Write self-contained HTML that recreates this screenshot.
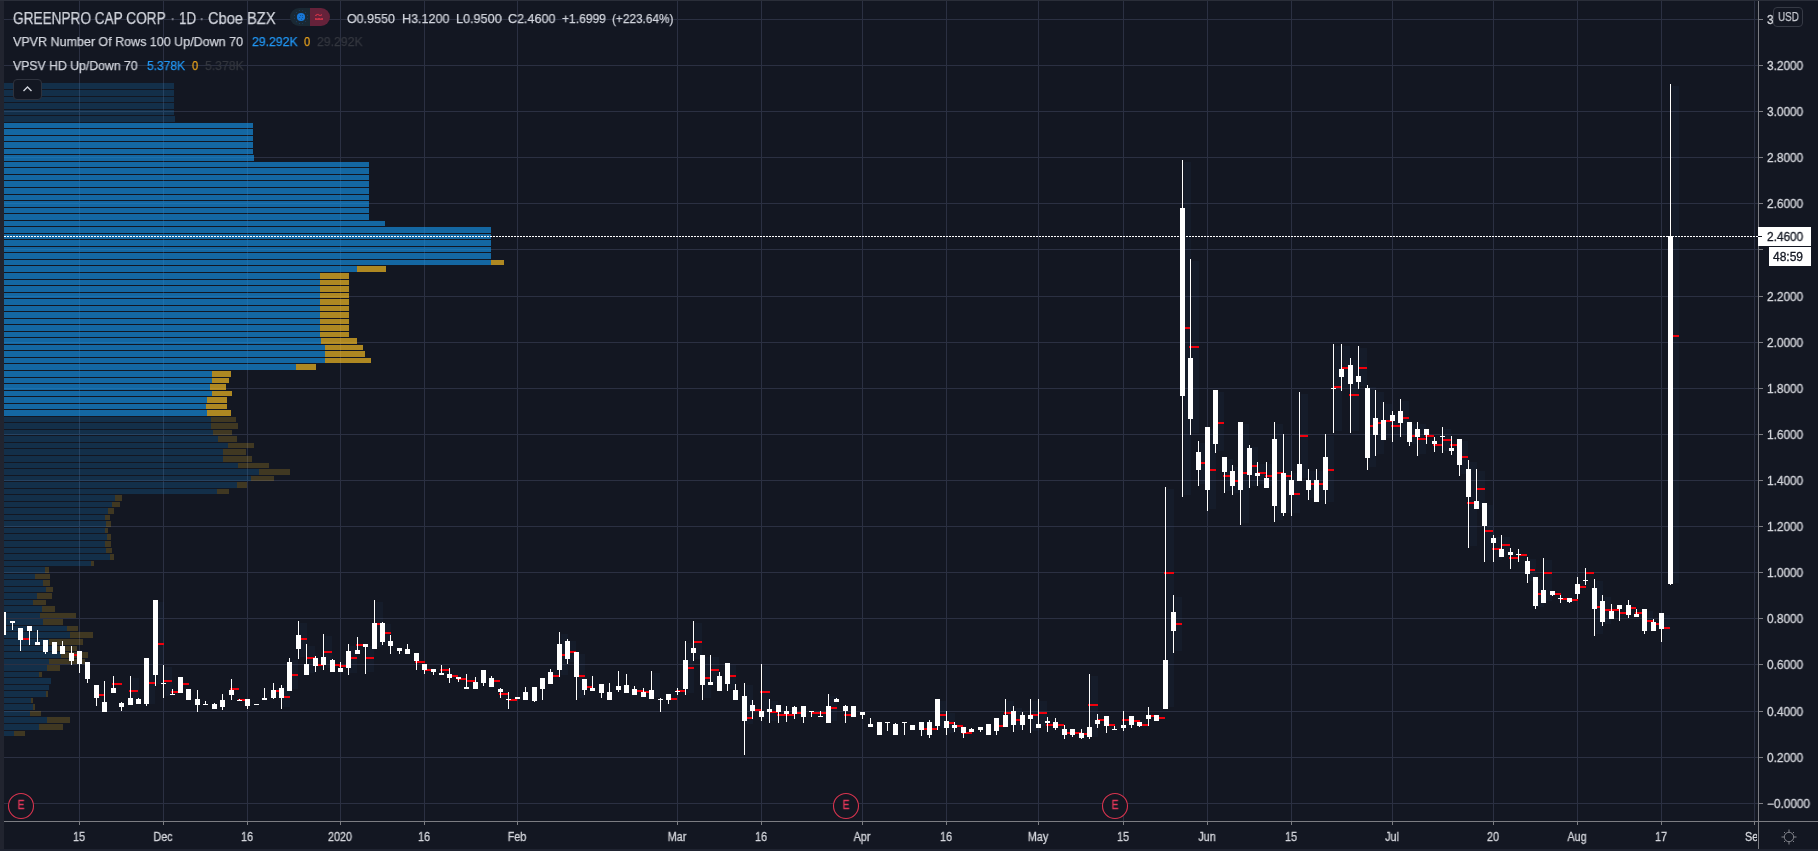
<!DOCTYPE html><html><head><meta charset="utf-8"><title>GRNQ chart</title><style>
html,body{margin:0;padding:0;background:#131722;}
body{width:1818px;height:851px;overflow:hidden;position:relative;font-family:"Liberation Sans",sans-serif;color:#d1d4dc;}
svg{position:absolute;left:0;top:0;}
.t{position:absolute;-webkit-text-stroke:0.25px;white-space:nowrap;line-height:1;transform-origin:0 50%;will-change:transform;}
.pl{position:absolute;left:1766.5px;font-size:12px;line-height:14px;height:14px;color:#d4d6dc;-webkit-text-stroke:0.3px;white-space:nowrap;transform-origin:0 50%;transform:scaleX(0.985);will-change:transform;}
.tl{position:absolute;top:830px;font-size:12px;line-height:14px;color:#d4d6dc;-webkit-text-stroke:0.3px;white-space:nowrap;transform:translateX(-50%) scaleX(0.9);will-change:transform;}
.e{position:absolute;top:798px;width:26px;text-align:center;font-size:12px;line-height:14px;color:#e0385a;transform:scaleX(0.86);will-change:transform;-webkit-text-stroke:0.3px;}

</style></head><body>
<svg width="1818" height="851" viewBox="0 0 1818 851" shape-rendering="crispEdges">
<g fill="#2b3042">
<rect x="4" y="19" width="1754" height="1"/>
<rect x="4" y="65" width="1754" height="1"/>
<rect x="4" y="111" width="1754" height="1"/>
<rect x="4" y="157" width="1754" height="1"/>
<rect x="4" y="203" width="1754" height="1"/>
<rect x="4" y="249" width="1754" height="1"/>
<rect x="4" y="296" width="1754" height="1"/>
<rect x="4" y="342" width="1754" height="1"/>
<rect x="4" y="388" width="1754" height="1"/>
<rect x="4" y="434" width="1754" height="1"/>
<rect x="4" y="480" width="1754" height="1"/>
<rect x="4" y="526" width="1754" height="1"/>
<rect x="4" y="572" width="1754" height="1"/>
<rect x="4" y="618" width="1754" height="1"/>
<rect x="4" y="664" width="1754" height="1"/>
<rect x="4" y="711" width="1754" height="1"/>
<rect x="4" y="757" width="1754" height="1"/>
<rect x="4" y="803" width="1754" height="1"/>
<rect x="79" y="1" width="1" height="821"/>
<rect x="163" y="1" width="1" height="821"/>
<rect x="247" y="1" width="1" height="821"/>
<rect x="340" y="1" width="1" height="821"/>
<rect x="424" y="1" width="1" height="821"/>
<rect x="517" y="1" width="1" height="821"/>
<rect x="677" y="1" width="1" height="821"/>
<rect x="761" y="1" width="1" height="821"/>
<rect x="862" y="1" width="1" height="821"/>
<rect x="946" y="1" width="1" height="821"/>
<rect x="1038" y="1" width="1" height="821"/>
<rect x="1123" y="1" width="1" height="821"/>
<rect x="1207" y="1" width="1" height="821"/>
<rect x="1291" y="1" width="1" height="821"/>
<rect x="1392" y="1" width="1" height="821"/>
<rect x="1493" y="1" width="1" height="821"/>
<rect x="1577" y="1" width="1" height="821"/>
<rect x="1661" y="1" width="1" height="821"/>
<rect x="1754" y="1" width="1" height="821"/>
</g>
<g fill="rgba(60,100,160,0.065)">
<rect x="132" y="678" width="7" height="25"/>
<rect x="148" y="660" width="7" height="44"/>
<rect x="157" y="602" width="7" height="82"/>
<rect x="165" y="667" width="7" height="29"/>
<rect x="283" y="687" width="7" height="20"/>
<rect x="291" y="660" width="7" height="29"/>
<rect x="300" y="623" width="7" height="34"/>
<rect x="308" y="646" width="7" height="27"/>
<rect x="325" y="636" width="7" height="32"/>
<rect x="350" y="646" width="7" height="27"/>
<rect x="367" y="646" width="7" height="26"/>
<rect x="376" y="602" width="7" height="45"/>
<rect x="384" y="624" width="7" height="19"/>
<rect x="561" y="634" width="7" height="41"/>
<rect x="569" y="641" width="7" height="21"/>
<rect x="578" y="654" width="7" height="44"/>
<rect x="653" y="673" width="7" height="24"/>
<rect x="687" y="643" width="7" height="50"/>
<rect x="695" y="623" width="7" height="36"/>
<rect x="704" y="657" width="7" height="41"/>
<rect x="712" y="657" width="7" height="26"/>
<rect x="729" y="665" width="7" height="24"/>
<rect x="746" y="685" width="7" height="39"/>
<rect x="763" y="666" width="7" height="53"/>
<rect x="771" y="701" width="7" height="20"/>
<rect x="830" y="696" width="7" height="25"/>
<rect x="939" y="701" width="7" height="27"/>
<rect x="948" y="713" width="7" height="20"/>
<rect x="1007" y="701" width="7" height="24"/>
<rect x="1015" y="708" width="7" height="22"/>
<rect x="1032" y="701" width="7" height="30"/>
<rect x="1040" y="701" width="7" height="25"/>
<rect x="1091" y="676" width="7" height="61"/>
<rect x="1167" y="489" width="7" height="218"/>
<rect x="1175" y="597" width="7" height="54"/>
<rect x="1184" y="162" width="7" height="333"/>
<rect x="1192" y="261" width="7" height="172"/>
<rect x="1200" y="443" width="7" height="41"/>
<rect x="1209" y="429" width="7" height="80"/>
<rect x="1217" y="392" width="7" height="59"/>
<rect x="1226" y="459" width="7" height="32"/>
<rect x="1234" y="467" width="7" height="26"/>
<rect x="1242" y="424" width="7" height="99"/>
<rect x="1251" y="447" width="7" height="39"/>
<rect x="1259" y="464" width="7" height="20"/>
<rect x="1268" y="464" width="7" height="22"/>
<rect x="1276" y="424" width="7" height="96"/>
<rect x="1285" y="436" width="7" height="77"/>
<rect x="1293" y="473" width="7" height="40"/>
<rect x="1301" y="394" width="7" height="84"/>
<rect x="1310" y="471" width="7" height="27"/>
<rect x="1318" y="471" width="7" height="29"/>
<rect x="1327" y="436" width="7" height="66"/>
<rect x="1335" y="346" width="7" height="85"/>
<rect x="1343" y="346" width="7" height="43"/>
<rect x="1352" y="360" width="7" height="71"/>
<rect x="1360" y="348" width="7" height="38"/>
<rect x="1369" y="387" width="7" height="80"/>
<rect x="1377" y="392" width="7" height="62"/>
<rect x="1385" y="404" width="7" height="34"/>
<rect x="1394" y="413" width="7" height="27"/>
<rect x="1402" y="401" width="7" height="34"/>
<rect x="1411" y="424" width="7" height="20"/>
<rect x="1419" y="424" width="7" height="30"/>
<rect x="1444" y="429" width="7" height="22"/>
<rect x="1461" y="441" width="7" height="33"/>
<rect x="1470" y="462" width="7" height="84"/>
<rect x="1478" y="471" width="7" height="36"/>
<rect x="1486" y="505" width="7" height="55"/>
<rect x="1495" y="537" width="7" height="23"/>
<rect x="1503" y="537" width="7" height="18"/>
<rect x="1529" y="559" width="7" height="22"/>
<rect x="1537" y="579" width="7" height="28"/>
<rect x="1545" y="560" width="7" height="41"/>
<rect x="1596" y="581" width="7" height="53"/>
<rect x="1604" y="597" width="7" height="27"/>
<rect x="1646" y="611" width="7" height="20"/>
<rect x="1663" y="615" width="7" height="25"/>
<rect x="1672" y="86" width="7" height="497"/>
</g>
<g fill="rgba(21,146,230,0.655)"><rect x="4" y="123" width="249" height="5"/><rect x="4" y="129" width="249" height="6"/><rect x="4" y="136" width="249" height="5"/><rect x="4" y="142" width="249" height="6"/><rect x="4" y="149" width="249" height="5"/><rect x="4" y="155" width="250" height="6"/><rect x="4" y="162" width="365" height="5"/><rect x="4" y="168" width="365" height="6"/><rect x="4" y="175" width="365" height="5"/><rect x="4" y="181" width="365" height="6"/><rect x="4" y="188" width="365" height="6"/><rect x="4" y="195" width="365" height="5"/><rect x="4" y="201" width="365" height="6"/><rect x="4" y="208" width="365" height="5"/><rect x="4" y="214" width="365" height="6"/><rect x="4" y="221" width="381" height="5"/><rect x="4" y="227" width="487" height="6"/><rect x="4" y="234" width="487" height="5"/><rect x="4" y="240" width="487" height="6"/><rect x="4" y="247" width="487" height="5"/><rect x="4" y="253" width="487" height="6"/><rect x="4" y="260" width="487" height="5"/><rect x="4" y="266" width="353" height="6"/><rect x="4" y="273" width="316" height="6"/><rect x="4" y="280" width="316" height="5"/><rect x="4" y="286" width="316" height="6"/><rect x="4" y="293" width="316" height="5"/><rect x="4" y="299" width="316" height="6"/><rect x="4" y="306" width="316" height="5"/><rect x="4" y="312" width="316" height="6"/><rect x="4" y="319" width="316" height="5"/><rect x="4" y="325" width="316" height="6"/><rect x="4" y="332" width="316" height="5"/><rect x="4" y="338" width="317" height="6"/><rect x="4" y="345" width="321" height="5"/><rect x="4" y="351" width="321" height="6"/><rect x="4" y="358" width="321" height="5"/><rect x="4" y="364" width="292" height="6"/><rect x="4" y="371" width="208" height="6"/><rect x="4" y="378" width="208" height="5"/><rect x="4" y="384" width="206" height="6"/><rect x="4" y="391" width="208" height="5"/><rect x="4" y="397" width="203" height="6"/><rect x="4" y="404" width="202" height="5"/><rect x="4" y="410" width="203" height="6"/></g>
<g fill="rgba(251,193,35,0.67)"><rect x="491" y="260" width="13" height="5"/><rect x="357" y="266" width="29" height="6"/><rect x="320" y="273" width="29" height="6"/><rect x="320" y="280" width="29" height="5"/><rect x="320" y="286" width="29" height="6"/><rect x="320" y="293" width="29" height="5"/><rect x="320" y="299" width="29" height="6"/><rect x="320" y="306" width="29" height="5"/><rect x="320" y="312" width="29" height="6"/><rect x="320" y="319" width="29" height="5"/><rect x="320" y="325" width="29" height="6"/><rect x="320" y="332" width="29" height="5"/><rect x="321" y="338" width="36" height="6"/><rect x="325" y="345" width="38" height="5"/><rect x="325" y="351" width="40" height="6"/><rect x="325" y="358" width="46" height="5"/><rect x="296" y="364" width="20" height="6"/><rect x="212" y="371" width="19" height="6"/><rect x="212" y="378" width="17" height="5"/><rect x="210" y="384" width="16" height="6"/><rect x="212" y="391" width="20" height="5"/><rect x="207" y="397" width="20" height="6"/><rect x="206" y="404" width="21" height="5"/><rect x="207" y="410" width="24" height="6"/></g>
<g fill="rgba(21,146,230,0.2)"><rect x="4" y="83" width="170" height="6"/><rect x="4" y="90" width="170" height="6"/><rect x="4" y="97" width="170" height="5"/><rect x="4" y="103" width="170" height="6"/><rect x="4" y="110" width="170" height="5"/><rect x="4" y="116" width="171" height="6"/><rect x="4" y="417" width="207" height="5"/><rect x="4" y="423" width="207" height="6"/><rect x="4" y="430" width="209" height="5"/><rect x="4" y="436" width="214" height="6"/><rect x="4" y="443" width="224" height="5"/><rect x="4" y="449" width="219" height="6"/><rect x="4" y="456" width="219" height="6"/><rect x="4" y="463" width="234" height="5"/><rect x="4" y="469" width="255" height="6"/><rect x="4" y="476" width="247" height="5"/><rect x="4" y="482" width="233" height="6"/><rect x="4" y="489" width="213" height="5"/><rect x="4" y="495" width="111" height="6"/><rect x="4" y="502" width="108" height="5"/><rect x="4" y="508" width="104" height="6"/><rect x="4" y="515" width="101" height="5"/><rect x="4" y="521" width="102" height="6"/><rect x="4" y="528" width="101" height="5"/><rect x="4" y="534" width="103" height="6"/><rect x="4" y="541" width="101" height="6"/><rect x="4" y="548" width="102" height="5"/><rect x="4" y="554" width="106" height="6"/><rect x="4" y="561" width="87" height="5"/><rect x="4" y="567" width="41" height="6"/><rect x="4" y="574" width="31" height="5"/><rect x="4" y="580" width="39" height="6"/><rect x="4" y="587" width="42" height="5"/><rect x="4" y="593" width="33" height="6"/><rect x="4" y="600" width="29" height="5"/><rect x="4" y="606" width="38" height="6"/><rect x="4" y="613" width="36" height="5"/><rect x="4" y="619" width="39" height="6"/><rect x="4" y="626" width="63" height="5"/><rect x="4" y="632" width="66" height="6"/><rect x="4" y="639" width="45" height="6"/><rect x="4" y="646" width="49" height="5"/><rect x="4" y="652" width="57" height="6"/><rect x="4" y="659" width="45" height="5"/><rect x="4" y="665" width="43" height="6"/><rect x="4" y="672" width="35" height="5"/><rect x="4" y="678" width="47" height="6"/><rect x="4" y="685" width="45" height="5"/><rect x="4" y="691" width="42" height="6"/><rect x="4" y="698" width="27" height="5"/><rect x="4" y="704" width="29" height="6"/><rect x="4" y="711" width="26" height="5"/><rect x="4" y="717" width="43" height="6"/><rect x="4" y="724" width="35" height="6"/><rect x="4" y="731" width="10" height="5"/></g>
<g fill="rgba(251,193,35,0.195)"><rect x="211" y="417" width="25" height="5"/><rect x="211" y="423" width="27" height="6"/><rect x="213" y="430" width="19" height="5"/><rect x="218" y="436" width="19" height="6"/><rect x="228" y="443" width="26" height="5"/><rect x="223" y="449" width="23" height="6"/><rect x="223" y="456" width="29" height="6"/><rect x="238" y="463" width="31" height="5"/><rect x="259" y="469" width="31" height="6"/><rect x="251" y="476" width="23" height="5"/><rect x="237" y="482" width="10" height="6"/><rect x="217" y="489" width="12" height="5"/><rect x="115" y="495" width="7" height="6"/><rect x="112" y="502" width="8" height="5"/><rect x="108" y="508" width="6" height="6"/><rect x="105" y="515" width="5" height="5"/><rect x="106" y="521" width="5" height="6"/><rect x="105" y="528" width="3" height="5"/><rect x="107" y="534" width="4" height="6"/><rect x="105" y="541" width="6" height="6"/><rect x="106" y="548" width="6" height="5"/><rect x="110" y="554" width="4" height="6"/><rect x="91" y="561" width="3" height="5"/><rect x="45" y="567" width="4" height="6"/><rect x="35" y="574" width="15" height="5"/><rect x="43" y="580" width="7" height="6"/><rect x="46" y="587" width="7" height="5"/><rect x="37" y="593" width="15" height="6"/><rect x="33" y="600" width="13" height="5"/><rect x="42" y="606" width="13" height="6"/><rect x="40" y="613" width="36" height="5"/><rect x="43" y="619" width="20" height="6"/><rect x="67" y="626" width="11" height="5"/><rect x="70" y="632" width="23" height="6"/><rect x="49" y="639" width="34" height="6"/><rect x="53" y="646" width="24" height="5"/><rect x="61" y="652" width="27" height="6"/><rect x="49" y="659" width="36" height="5"/><rect x="47" y="665" width="13" height="6"/><rect x="39" y="672" width="3" height="5"/><rect x="46" y="691" width="2" height="6"/><rect x="31" y="698" width="2" height="5"/><rect x="33" y="704" width="2" height="6"/><rect x="30" y="711" width="11" height="5"/><rect x="47" y="717" width="23" height="6"/><rect x="39" y="724" width="24" height="6"/><rect x="14" y="731" width="11" height="5"/></g>
<g fill="#f0000c">
<rect x="20" y="638" width="9" height="2"/>
<rect x="70" y="654" width="10" height="2"/>
<rect x="95" y="694" width="10" height="2"/>
<rect x="112" y="683" width="10" height="2"/>
<rect x="129" y="690" width="9" height="2"/>
<rect x="146" y="682" width="9" height="2"/>
<rect x="154" y="643" width="10" height="2"/>
<rect x="163" y="680" width="9" height="2"/>
<rect x="171" y="691" width="10" height="2"/>
<rect x="180" y="683" width="9" height="2"/>
<rect x="230" y="688" width="9" height="2"/>
<rect x="238" y="699" width="10" height="2"/>
<rect x="272" y="690" width="10" height="2"/>
<rect x="281" y="696" width="9" height="2"/>
<rect x="289" y="674" width="9" height="2"/>
<rect x="297" y="638" width="10" height="2"/>
<rect x="306" y="657" width="9" height="2"/>
<rect x="314" y="664" width="10" height="2"/>
<rect x="323" y="651" width="9" height="2"/>
<rect x="331" y="664" width="9" height="2"/>
<rect x="339" y="665" width="10" height="2"/>
<rect x="348" y="657" width="9" height="2"/>
<rect x="356" y="644" width="10" height="2"/>
<rect x="365" y="657" width="9" height="2"/>
<rect x="373" y="623" width="10" height="2"/>
<rect x="382" y="632" width="9" height="2"/>
<rect x="415" y="661" width="10" height="2"/>
<rect x="424" y="669" width="9" height="2"/>
<rect x="440" y="669" width="10" height="2"/>
<rect x="449" y="675" width="9" height="2"/>
<rect x="457" y="678" width="10" height="2"/>
<rect x="466" y="680" width="9" height="2"/>
<rect x="491" y="680" width="9" height="2"/>
<rect x="499" y="693" width="10" height="2"/>
<rect x="508" y="699" width="9" height="2"/>
<rect x="550" y="675" width="9" height="2"/>
<rect x="558" y="654" width="10" height="2"/>
<rect x="567" y="651" width="9" height="2"/>
<rect x="575" y="675" width="10" height="2"/>
<rect x="584" y="686" width="9" height="2"/>
<rect x="634" y="690" width="9" height="2"/>
<rect x="642" y="691" width="10" height="2"/>
<rect x="668" y="698" width="9" height="2"/>
<rect x="676" y="690" width="9" height="2"/>
<rect x="684" y="667" width="10" height="2"/>
<rect x="693" y="641" width="9" height="2"/>
<rect x="701" y="677" width="10" height="2"/>
<rect x="710" y="669" width="9" height="2"/>
<rect x="727" y="675" width="9" height="2"/>
<rect x="743" y="717" width="10" height="2"/>
<rect x="752" y="709" width="9" height="2"/>
<rect x="760" y="691" width="10" height="2"/>
<rect x="769" y="711" width="9" height="2"/>
<rect x="777" y="714" width="9" height="2"/>
<rect x="785" y="714" width="10" height="2"/>
<rect x="794" y="712" width="9" height="2"/>
<rect x="811" y="712" width="9" height="2"/>
<rect x="819" y="712" width="10" height="2"/>
<rect x="828" y="707" width="9" height="2"/>
<rect x="844" y="714" width="10" height="2"/>
<rect x="920" y="728" width="10" height="2"/>
<rect x="929" y="728" width="9" height="2"/>
<rect x="937" y="714" width="9" height="2"/>
<rect x="945" y="722" width="10" height="2"/>
<rect x="954" y="725" width="9" height="2"/>
<rect x="962" y="732" width="10" height="2"/>
<rect x="996" y="725" width="9" height="2"/>
<rect x="1004" y="712" width="10" height="2"/>
<rect x="1013" y="719" width="9" height="2"/>
<rect x="1030" y="714" width="9" height="2"/>
<rect x="1038" y="712" width="9" height="2"/>
<rect x="1046" y="724" width="10" height="2"/>
<rect x="1055" y="724" width="9" height="2"/>
<rect x="1063" y="732" width="10" height="2"/>
<rect x="1072" y="732" width="9" height="2"/>
<rect x="1080" y="733" width="9" height="2"/>
<rect x="1088" y="704" width="10" height="2"/>
<rect x="1097" y="719" width="9" height="2"/>
<rect x="1105" y="724" width="10" height="2"/>
<rect x="1122" y="719" width="10" height="2"/>
<rect x="1131" y="720" width="9" height="2"/>
<rect x="1139" y="724" width="9" height="2"/>
<rect x="1147" y="715" width="10" height="2"/>
<rect x="1156" y="717" width="9" height="2"/>
<rect x="1164" y="572" width="10" height="2"/>
<rect x="1173" y="623" width="9" height="2"/>
<rect x="1181" y="327" width="9" height="2"/>
<rect x="1189" y="346" width="10" height="2"/>
<rect x="1198" y="462" width="9" height="2"/>
<rect x="1206" y="469" width="10" height="2"/>
<rect x="1215" y="422" width="9" height="2"/>
<rect x="1223" y="475" width="10" height="2"/>
<rect x="1232" y="480" width="9" height="2"/>
<rect x="1240" y="472" width="9" height="2"/>
<rect x="1248" y="465" width="10" height="2"/>
<rect x="1257" y="472" width="9" height="2"/>
<rect x="1265" y="475" width="10" height="2"/>
<rect x="1274" y="472" width="9" height="2"/>
<rect x="1282" y="475" width="9" height="2"/>
<rect x="1290" y="493" width="10" height="2"/>
<rect x="1299" y="435" width="9" height="2"/>
<rect x="1307" y="483" width="10" height="2"/>
<rect x="1316" y="483" width="9" height="2"/>
<rect x="1324" y="469" width="10" height="2"/>
<rect x="1333" y="386" width="9" height="2"/>
<rect x="1341" y="367" width="9" height="2"/>
<rect x="1349" y="394" width="10" height="2"/>
<rect x="1358" y="367" width="9" height="2"/>
<rect x="1366" y="425" width="10" height="2"/>
<rect x="1375" y="422" width="9" height="2"/>
<rect x="1383" y="420" width="9" height="2"/>
<rect x="1391" y="425" width="10" height="2"/>
<rect x="1400" y="417" width="9" height="2"/>
<rect x="1408" y="435" width="10" height="2"/>
<rect x="1417" y="438" width="9" height="2"/>
<rect x="1425" y="435" width="9" height="2"/>
<rect x="1433" y="444" width="10" height="2"/>
<rect x="1442" y="439" width="9" height="2"/>
<rect x="1450" y="444" width="10" height="2"/>
<rect x="1459" y="456" width="9" height="2"/>
<rect x="1467" y="502" width="10" height="2"/>
<rect x="1476" y="488" width="9" height="2"/>
<rect x="1484" y="530" width="9" height="2"/>
<rect x="1492" y="548" width="10" height="2"/>
<rect x="1501" y="544" width="9" height="2"/>
<rect x="1509" y="557" width="10" height="2"/>
<rect x="1518" y="554" width="9" height="2"/>
<rect x="1526" y="569" width="9" height="2"/>
<rect x="1534" y="593" width="10" height="2"/>
<rect x="1543" y="572" width="9" height="2"/>
<rect x="1551" y="593" width="10" height="2"/>
<rect x="1560" y="598" width="9" height="2"/>
<rect x="1568" y="599" width="10" height="2"/>
<rect x="1577" y="586" width="9" height="2"/>
<rect x="1585" y="572" width="9" height="2"/>
<rect x="1593" y="606" width="10" height="2"/>
<rect x="1602" y="609" width="9" height="2"/>
<rect x="1610" y="609" width="10" height="2"/>
<rect x="1619" y="612" width="9" height="2"/>
<rect x="1627" y="607" width="9" height="2"/>
<rect x="1635" y="612" width="10" height="2"/>
<rect x="1644" y="620" width="9" height="2"/>
<rect x="1652" y="623" width="10" height="2"/>
<rect x="1661" y="627" width="9" height="2"/>
<rect x="1669" y="335" width="10" height="2"/>
</g>
<g fill="#ffffff">
<rect x="4" y="612" width="2" height="23"/>
<rect x="12" y="621" width="1" height="9"/>
<rect x="10" y="621" width="5" height="2"/>
<rect x="20" y="628" width="1" height="23"/>
<rect x="18" y="628" width="5" height="12"/>
<rect x="29" y="626" width="1" height="19"/>
<rect x="27" y="626" width="5" height="5"/>
<rect x="37" y="630" width="1" height="15"/>
<rect x="35" y="642" width="5" height="3"/>
<rect x="45" y="640" width="1" height="14"/>
<rect x="43" y="640" width="5" height="12"/>
<rect x="52" y="642" width="5" height="12"/>
<rect x="62" y="641" width="1" height="13"/>
<rect x="60" y="646" width="5" height="8"/>
<rect x="71" y="646" width="1" height="19"/>
<rect x="69" y="653" width="5" height="8"/>
<rect x="79" y="651" width="1" height="22"/>
<rect x="77" y="651" width="5" height="13"/>
<rect x="87" y="662" width="1" height="21"/>
<rect x="85" y="662" width="5" height="17"/>
<rect x="96" y="685" width="1" height="21"/>
<rect x="94" y="685" width="5" height="13"/>
<rect x="104" y="681" width="1" height="31"/>
<rect x="102" y="702" width="5" height="10"/>
<rect x="113" y="676" width="1" height="17"/>
<rect x="111" y="688" width="5" height="5"/>
<rect x="121" y="702" width="1" height="9"/>
<rect x="119" y="703" width="5" height="4"/>
<rect x="130" y="676" width="1" height="29"/>
<rect x="128" y="698" width="5" height="7"/>
<rect x="138" y="698" width="1" height="6"/>
<rect x="136" y="699" width="5" height="5"/>
<rect x="146" y="658" width="1" height="48"/>
<rect x="144" y="658" width="5" height="46"/>
<rect x="155" y="600" width="1" height="86"/>
<rect x="153" y="600" width="5" height="75"/>
<rect x="163" y="665" width="1" height="33"/>
<rect x="161" y="683" width="5" height="1"/>
<rect x="172" y="689" width="1" height="6"/>
<rect x="170" y="694" width="5" height="1"/>
<rect x="178" y="677" width="5" height="16"/>
<rect x="186" y="689" width="5" height="11"/>
<rect x="197" y="690" width="1" height="22"/>
<rect x="195" y="699" width="5" height="6"/>
<rect x="205" y="701" width="1" height="4"/>
<rect x="203" y="704" width="5" height="1"/>
<rect x="214" y="703" width="1" height="6"/>
<rect x="212" y="704" width="5" height="5"/>
<rect x="222" y="694" width="1" height="16"/>
<rect x="220" y="700" width="5" height="7"/>
<rect x="231" y="679" width="1" height="21"/>
<rect x="229" y="690" width="5" height="5"/>
<rect x="239" y="699" width="1" height="2"/>
<rect x="237" y="700" width="5" height="1"/>
<rect x="247" y="699" width="1" height="10"/>
<rect x="245" y="699" width="5" height="7"/>
<rect x="254" y="704" width="5" height="1"/>
<rect x="264" y="688" width="1" height="12"/>
<rect x="262" y="698" width="5" height="2"/>
<rect x="273" y="683" width="1" height="16"/>
<rect x="271" y="690" width="5" height="8"/>
<rect x="281" y="685" width="1" height="24"/>
<rect x="279" y="688" width="5" height="10"/>
<rect x="289" y="658" width="1" height="33"/>
<rect x="287" y="662" width="5" height="29"/>
<rect x="298" y="621" width="1" height="38"/>
<rect x="296" y="635" width="5" height="14"/>
<rect x="306" y="644" width="1" height="31"/>
<rect x="304" y="664" width="5" height="11"/>
<rect x="315" y="656" width="1" height="16"/>
<rect x="313" y="658" width="5" height="8"/>
<rect x="323" y="634" width="1" height="36"/>
<rect x="321" y="657" width="5" height="8"/>
<rect x="332" y="659" width="1" height="13"/>
<rect x="330" y="660" width="5" height="12"/>
<rect x="340" y="662" width="1" height="10"/>
<rect x="338" y="668" width="5" height="4"/>
<rect x="348" y="644" width="1" height="31"/>
<rect x="346" y="651" width="5" height="17"/>
<rect x="357" y="637" width="1" height="17"/>
<rect x="355" y="650" width="5" height="4"/>
<rect x="365" y="644" width="1" height="30"/>
<rect x="363" y="644" width="5" height="3"/>
<rect x="374" y="600" width="1" height="49"/>
<rect x="372" y="623" width="5" height="26"/>
<rect x="382" y="622" width="1" height="23"/>
<rect x="380" y="623" width="5" height="19"/>
<rect x="390" y="635" width="1" height="19"/>
<rect x="388" y="641" width="5" height="5"/>
<rect x="399" y="648" width="1" height="6"/>
<rect x="397" y="648" width="5" height="3"/>
<rect x="407" y="644" width="1" height="10"/>
<rect x="405" y="649" width="5" height="5"/>
<rect x="416" y="653" width="1" height="17"/>
<rect x="414" y="653" width="5" height="8"/>
<rect x="424" y="664" width="1" height="10"/>
<rect x="422" y="664" width="5" height="6"/>
<rect x="433" y="669" width="1" height="6"/>
<rect x="431" y="669" width="5" height="3"/>
<rect x="441" y="665" width="1" height="10"/>
<rect x="439" y="673" width="5" height="2"/>
<rect x="449" y="668" width="1" height="15"/>
<rect x="447" y="674" width="5" height="4"/>
<rect x="458" y="677" width="1" height="5"/>
<rect x="456" y="677" width="5" height="2"/>
<rect x="466" y="674" width="1" height="15"/>
<rect x="464" y="687" width="5" height="2"/>
<rect x="475" y="677" width="1" height="12"/>
<rect x="473" y="682" width="5" height="7"/>
<rect x="483" y="670" width="1" height="16"/>
<rect x="481" y="670" width="5" height="13"/>
<rect x="491" y="676" width="1" height="11"/>
<rect x="489" y="678" width="5" height="9"/>
<rect x="500" y="688" width="1" height="10"/>
<rect x="498" y="689" width="5" height="3"/>
<rect x="508" y="692" width="1" height="17"/>
<rect x="506" y="699" width="5" height="1"/>
<rect x="515" y="697" width="5" height="2"/>
<rect x="525" y="687" width="1" height="13"/>
<rect x="523" y="692" width="5" height="8"/>
<rect x="534" y="687" width="1" height="15"/>
<rect x="532" y="687" width="5" height="14"/>
<rect x="542" y="678" width="1" height="22"/>
<rect x="540" y="678" width="5" height="11"/>
<rect x="550" y="669" width="1" height="15"/>
<rect x="548" y="672" width="5" height="12"/>
<rect x="559" y="632" width="1" height="45"/>
<rect x="557" y="644" width="5" height="26"/>
<rect x="567" y="639" width="1" height="25"/>
<rect x="565" y="641" width="5" height="18"/>
<rect x="576" y="652" width="1" height="48"/>
<rect x="574" y="652" width="5" height="25"/>
<rect x="584" y="679" width="1" height="16"/>
<rect x="582" y="679" width="5" height="11"/>
<rect x="592" y="676" width="1" height="15"/>
<rect x="590" y="688" width="5" height="3"/>
<rect x="601" y="684" width="1" height="14"/>
<rect x="599" y="684" width="5" height="9"/>
<rect x="609" y="683" width="1" height="17"/>
<rect x="607" y="692" width="5" height="8"/>
<rect x="618" y="671" width="1" height="21"/>
<rect x="616" y="686" width="5" height="4"/>
<rect x="626" y="674" width="1" height="19"/>
<rect x="624" y="685" width="5" height="8"/>
<rect x="634" y="686" width="1" height="9"/>
<rect x="632" y="689" width="5" height="6"/>
<rect x="643" y="688" width="1" height="9"/>
<rect x="641" y="692" width="5" height="5"/>
<rect x="651" y="671" width="1" height="28"/>
<rect x="649" y="690" width="5" height="9"/>
<rect x="660" y="698" width="1" height="14"/>
<rect x="658" y="699" width="5" height="1"/>
<rect x="668" y="694" width="1" height="10"/>
<rect x="666" y="694" width="5" height="6"/>
<rect x="677" y="688" width="1" height="7"/>
<rect x="675" y="691" width="5" height="1"/>
<rect x="685" y="641" width="1" height="54"/>
<rect x="683" y="660" width="5" height="29"/>
<rect x="693" y="621" width="1" height="40"/>
<rect x="691" y="648" width="5" height="5"/>
<rect x="702" y="655" width="1" height="45"/>
<rect x="700" y="655" width="5" height="30"/>
<rect x="710" y="655" width="1" height="30"/>
<rect x="708" y="682" width="5" height="3"/>
<rect x="719" y="672" width="1" height="19"/>
<rect x="717" y="676" width="5" height="15"/>
<rect x="727" y="663" width="1" height="28"/>
<rect x="725" y="663" width="5" height="21"/>
<rect x="735" y="684" width="1" height="16"/>
<rect x="733" y="690" width="5" height="10"/>
<rect x="744" y="683" width="1" height="72"/>
<rect x="742" y="696" width="5" height="25"/>
<rect x="752" y="700" width="1" height="19"/>
<rect x="750" y="705" width="5" height="6"/>
<rect x="761" y="664" width="1" height="57"/>
<rect x="759" y="711" width="5" height="6"/>
<rect x="769" y="699" width="1" height="24"/>
<rect x="767" y="709" width="5" height="3"/>
<rect x="778" y="705" width="1" height="18"/>
<rect x="776" y="705" width="5" height="7"/>
<rect x="786" y="706" width="1" height="16"/>
<rect x="784" y="711" width="5" height="3"/>
<rect x="794" y="706" width="1" height="13"/>
<rect x="792" y="707" width="5" height="7"/>
<rect x="803" y="706" width="1" height="17"/>
<rect x="801" y="706" width="5" height="11"/>
<rect x="811" y="711" width="1" height="6"/>
<rect x="809" y="711" width="5" height="1"/>
<rect x="820" y="711" width="1" height="6"/>
<rect x="818" y="716" width="5" height="1"/>
<rect x="828" y="694" width="1" height="29"/>
<rect x="826" y="706" width="5" height="17"/>
<rect x="836" y="698" width="1" height="4"/>
<rect x="834" y="699" width="5" height="3"/>
<rect x="845" y="705" width="1" height="18"/>
<rect x="843" y="706" width="5" height="5"/>
<rect x="851" y="706" width="5" height="11"/>
<rect x="862" y="712" width="1" height="7"/>
<rect x="860" y="712" width="5" height="3"/>
<rect x="870" y="718" width="1" height="9"/>
<rect x="868" y="724" width="5" height="3"/>
<rect x="877" y="722" width="5" height="13"/>
<rect x="887" y="722" width="1" height="9"/>
<rect x="885" y="722" width="5" height="1"/>
<rect x="895" y="723" width="1" height="12"/>
<rect x="893" y="724" width="5" height="11"/>
<rect x="904" y="722" width="1" height="13"/>
<rect x="902" y="722" width="5" height="1"/>
<rect x="910" y="725" width="5" height="5"/>
<rect x="921" y="722" width="1" height="14"/>
<rect x="919" y="722" width="5" height="8"/>
<rect x="929" y="720" width="1" height="18"/>
<rect x="927" y="722" width="5" height="13"/>
<rect x="937" y="699" width="1" height="31"/>
<rect x="935" y="699" width="5" height="27"/>
<rect x="946" y="711" width="1" height="24"/>
<rect x="944" y="721" width="5" height="7"/>
<rect x="954" y="722" width="1" height="10"/>
<rect x="952" y="725" width="5" height="3"/>
<rect x="963" y="727" width="1" height="11"/>
<rect x="961" y="727" width="5" height="6"/>
<rect x="971" y="728" width="1" height="4"/>
<rect x="969" y="729" width="5" height="3"/>
<rect x="980" y="727" width="1" height="5"/>
<rect x="978" y="727" width="5" height="3"/>
<rect x="986" y="724" width="5" height="11"/>
<rect x="996" y="718" width="1" height="17"/>
<rect x="994" y="718" width="5" height="13"/>
<rect x="1005" y="699" width="1" height="28"/>
<rect x="1003" y="715" width="5" height="12"/>
<rect x="1013" y="706" width="1" height="26"/>
<rect x="1011" y="711" width="5" height="14"/>
<rect x="1022" y="712" width="1" height="18"/>
<rect x="1020" y="715" width="5" height="10"/>
<rect x="1030" y="699" width="1" height="34"/>
<rect x="1028" y="715" width="5" height="4"/>
<rect x="1038" y="699" width="1" height="29"/>
<rect x="1036" y="724" width="5" height="4"/>
<rect x="1047" y="717" width="1" height="15"/>
<rect x="1045" y="721" width="5" height="2"/>
<rect x="1055" y="718" width="1" height="12"/>
<rect x="1053" y="722" width="5" height="6"/>
<rect x="1064" y="725" width="1" height="14"/>
<rect x="1062" y="729" width="5" height="6"/>
<rect x="1072" y="729" width="1" height="8"/>
<rect x="1070" y="729" width="5" height="6"/>
<rect x="1081" y="729" width="1" height="10"/>
<rect x="1079" y="733" width="5" height="5"/>
<rect x="1089" y="674" width="1" height="65"/>
<rect x="1087" y="727" width="5" height="10"/>
<rect x="1097" y="714" width="1" height="14"/>
<rect x="1095" y="720" width="5" height="4"/>
<rect x="1106" y="716" width="1" height="17"/>
<rect x="1104" y="716" width="5" height="10"/>
<rect x="1114" y="726" width="1" height="4"/>
<rect x="1112" y="729" width="5" height="1"/>
<rect x="1123" y="711" width="1" height="20"/>
<rect x="1121" y="725" width="5" height="3"/>
<rect x="1131" y="716" width="1" height="12"/>
<rect x="1129" y="716" width="5" height="9"/>
<rect x="1139" y="722" width="1" height="5"/>
<rect x="1137" y="722" width="5" height="4"/>
<rect x="1148" y="707" width="1" height="19"/>
<rect x="1146" y="715" width="5" height="4"/>
<rect x="1154" y="715" width="5" height="6"/>
<rect x="1165" y="487" width="1" height="222"/>
<rect x="1163" y="660" width="5" height="49"/>
<rect x="1173" y="595" width="1" height="58"/>
<rect x="1171" y="612" width="5" height="19"/>
<rect x="1182" y="160" width="1" height="337"/>
<rect x="1180" y="208" width="5" height="188"/>
<rect x="1190" y="259" width="1" height="176"/>
<rect x="1188" y="358" width="5" height="61"/>
<rect x="1198" y="441" width="1" height="45"/>
<rect x="1196" y="452" width="5" height="18"/>
<rect x="1207" y="427" width="1" height="84"/>
<rect x="1205" y="427" width="5" height="63"/>
<rect x="1215" y="390" width="1" height="63"/>
<rect x="1213" y="390" width="5" height="54"/>
<rect x="1224" y="457" width="1" height="36"/>
<rect x="1222" y="457" width="5" height="15"/>
<rect x="1232" y="465" width="1" height="30"/>
<rect x="1230" y="471" width="5" height="15"/>
<rect x="1240" y="422" width="1" height="103"/>
<rect x="1238" y="422" width="5" height="68"/>
<rect x="1249" y="445" width="1" height="43"/>
<rect x="1247" y="448" width="5" height="27"/>
<rect x="1257" y="462" width="1" height="24"/>
<rect x="1255" y="473" width="5" height="3"/>
<rect x="1266" y="462" width="1" height="26"/>
<rect x="1264" y="478" width="5" height="10"/>
<rect x="1274" y="422" width="1" height="100"/>
<rect x="1272" y="439" width="5" height="67"/>
<rect x="1283" y="434" width="1" height="82"/>
<rect x="1281" y="473" width="5" height="40"/>
<rect x="1291" y="471" width="1" height="45"/>
<rect x="1289" y="480" width="5" height="15"/>
<rect x="1299" y="392" width="1" height="89"/>
<rect x="1297" y="464" width="5" height="17"/>
<rect x="1308" y="469" width="1" height="31"/>
<rect x="1306" y="480" width="5" height="10"/>
<rect x="1316" y="469" width="1" height="33"/>
<rect x="1314" y="480" width="5" height="22"/>
<rect x="1325" y="434" width="1" height="70"/>
<rect x="1323" y="457" width="5" height="33"/>
<rect x="1333" y="344" width="1" height="89"/>
<rect x="1331" y="388" width="5" height="1"/>
<rect x="1341" y="344" width="1" height="47"/>
<rect x="1339" y="369" width="5" height="8"/>
<rect x="1350" y="358" width="1" height="75"/>
<rect x="1348" y="365" width="5" height="19"/>
<rect x="1358" y="346" width="1" height="43"/>
<rect x="1356" y="376" width="5" height="6"/>
<rect x="1367" y="385" width="1" height="85"/>
<rect x="1365" y="388" width="5" height="70"/>
<rect x="1375" y="390" width="1" height="66"/>
<rect x="1373" y="418" width="5" height="17"/>
<rect x="1383" y="402" width="1" height="38"/>
<rect x="1381" y="420" width="5" height="20"/>
<rect x="1392" y="411" width="1" height="31"/>
<rect x="1390" y="415" width="5" height="6"/>
<rect x="1400" y="399" width="1" height="38"/>
<rect x="1398" y="411" width="5" height="12"/>
<rect x="1409" y="422" width="1" height="24"/>
<rect x="1407" y="422" width="5" height="20"/>
<rect x="1417" y="422" width="1" height="34"/>
<rect x="1415" y="429" width="5" height="8"/>
<rect x="1426" y="429" width="1" height="15"/>
<rect x="1424" y="429" width="5" height="6"/>
<rect x="1434" y="437" width="1" height="15"/>
<rect x="1432" y="441" width="5" height="3"/>
<rect x="1442" y="427" width="1" height="26"/>
<rect x="1440" y="436" width="5" height="1"/>
<rect x="1451" y="436" width="1" height="19"/>
<rect x="1449" y="448" width="5" height="3"/>
<rect x="1459" y="439" width="1" height="37"/>
<rect x="1457" y="439" width="5" height="26"/>
<rect x="1468" y="460" width="1" height="88"/>
<rect x="1466" y="469" width="5" height="28"/>
<rect x="1476" y="469" width="1" height="40"/>
<rect x="1474" y="501" width="5" height="8"/>
<rect x="1484" y="503" width="1" height="59"/>
<rect x="1482" y="503" width="5" height="23"/>
<rect x="1493" y="535" width="1" height="27"/>
<rect x="1491" y="538" width="5" height="5"/>
<rect x="1501" y="535" width="1" height="22"/>
<rect x="1499" y="549" width="5" height="8"/>
<rect x="1510" y="548" width="1" height="21"/>
<rect x="1508" y="552" width="5" height="3"/>
<rect x="1518" y="549" width="1" height="13"/>
<rect x="1516" y="554" width="5" height="1"/>
<rect x="1527" y="557" width="1" height="26"/>
<rect x="1525" y="561" width="5" height="13"/>
<rect x="1535" y="577" width="1" height="32"/>
<rect x="1533" y="577" width="5" height="29"/>
<rect x="1543" y="558" width="1" height="45"/>
<rect x="1541" y="590" width="5" height="13"/>
<rect x="1552" y="591" width="1" height="5"/>
<rect x="1550" y="591" width="5" height="4"/>
<rect x="1560" y="595" width="1" height="8"/>
<rect x="1558" y="598" width="5" height="1"/>
<rect x="1569" y="598" width="1" height="5"/>
<rect x="1567" y="598" width="5" height="4"/>
<rect x="1577" y="577" width="1" height="22"/>
<rect x="1575" y="584" width="5" height="10"/>
<rect x="1585" y="568" width="1" height="17"/>
<rect x="1583" y="580" width="5" height="1"/>
<rect x="1594" y="579" width="1" height="57"/>
<rect x="1592" y="588" width="5" height="21"/>
<rect x="1602" y="595" width="1" height="31"/>
<rect x="1600" y="601" width="5" height="21"/>
<rect x="1611" y="604" width="1" height="15"/>
<rect x="1609" y="611" width="5" height="8"/>
<rect x="1619" y="605" width="1" height="16"/>
<rect x="1617" y="605" width="5" height="4"/>
<rect x="1628" y="600" width="1" height="18"/>
<rect x="1626" y="605" width="5" height="10"/>
<rect x="1636" y="609" width="1" height="8"/>
<rect x="1634" y="614" width="5" height="3"/>
<rect x="1644" y="609" width="1" height="25"/>
<rect x="1642" y="609" width="5" height="22"/>
<rect x="1653" y="619" width="1" height="12"/>
<rect x="1651" y="622" width="5" height="9"/>
<rect x="1661" y="613" width="1" height="29"/>
<rect x="1659" y="613" width="5" height="16"/>
<rect x="1670" y="84" width="1" height="501"/>
<rect x="1668" y="236" width="5" height="348"/>
</g>
<line x1="4" y1="236.5" x2="1758" y2="236.5" stroke="#ffffff" stroke-width="1" stroke-dasharray="2 1"/>
<g fill="#7c7d83">
<rect x="1758" y="0" width="1" height="851"/>
<rect x="4" y="821" width="1814" height="1"/>
<rect x="1759" y="19" width="4" height="1"/>
<rect x="1759" y="65" width="4" height="1"/>
<rect x="1759" y="111" width="4" height="1"/>
<rect x="1759" y="157" width="4" height="1"/>
<rect x="1759" y="203" width="4" height="1"/>
<rect x="1759" y="249" width="4" height="1"/>
<rect x="1759" y="296" width="4" height="1"/>
<rect x="1759" y="342" width="4" height="1"/>
<rect x="1759" y="388" width="4" height="1"/>
<rect x="1759" y="434" width="4" height="1"/>
<rect x="1759" y="480" width="4" height="1"/>
<rect x="1759" y="526" width="4" height="1"/>
<rect x="1759" y="572" width="4" height="1"/>
<rect x="1759" y="618" width="4" height="1"/>
<rect x="1759" y="664" width="4" height="1"/>
<rect x="1759" y="711" width="4" height="1"/>
<rect x="1759" y="757" width="4" height="1"/>
<rect x="1759" y="803" width="4" height="1"/>
<rect x="79" y="822" width="1" height="3"/>
<rect x="163" y="822" width="1" height="3"/>
<rect x="247" y="822" width="1" height="3"/>
<rect x="340" y="822" width="1" height="3"/>
<rect x="424" y="822" width="1" height="3"/>
<rect x="517" y="822" width="1" height="3"/>
<rect x="677" y="822" width="1" height="3"/>
<rect x="761" y="822" width="1" height="3"/>
<rect x="862" y="822" width="1" height="3"/>
<rect x="946" y="822" width="1" height="3"/>
<rect x="1038" y="822" width="1" height="3"/>
<rect x="1123" y="822" width="1" height="3"/>
<rect x="1207" y="822" width="1" height="3"/>
<rect x="1291" y="822" width="1" height="3"/>
<rect x="1392" y="822" width="1" height="3"/>
<rect x="1493" y="822" width="1" height="3"/>
<rect x="1577" y="822" width="1" height="3"/>
<rect x="1661" y="822" width="1" height="3"/>
<rect x="1754" y="822" width="1" height="3"/>
</g>
<rect x="0" y="0" width="4" height="851" fill="#21242f"/>
<rect x="0" y="0" width="1818" height="1" fill="#2a2e39"/>
<rect x="0" y="849" width="1818" height="2" fill="#1f2330"/>
<circle cx="21" cy="806" r="12.5" fill="#131722" stroke="#d8344f" stroke-width="1.1" shape-rendering="auto"/>
<circle cx="846" cy="806" r="12.5" fill="#131722" stroke="#d8344f" stroke-width="1.1" shape-rendering="auto"/>
<circle cx="1115" cy="806" r="12.5" fill="#131722" stroke="#d8344f" stroke-width="1.1" shape-rendering="auto"/>
</svg>
<div class="e" style="left:8px">E</div>
<div class="e" style="left:833px">E</div>
<div class="e" style="left:1102px">E</div>
<div class="pl" style="top:13px">3</div>
<div class="pl" style="top:59px">3.2000</div>
<div class="pl" style="top:105px">3.0000</div>
<div class="pl" style="top:151px">2.8000</div>
<div class="pl" style="top:197px">2.6000</div>
<div class="pl" style="top:290px">2.2000</div>
<div class="pl" style="top:336px">2.0000</div>
<div class="pl" style="top:382px">1.8000</div>
<div class="pl" style="top:428px">1.6000</div>
<div class="pl" style="top:474px">1.4000</div>
<div class="pl" style="top:520px">1.2000</div>
<div class="pl" style="top:566px">1.0000</div>
<div class="pl" style="top:612px">0.8000</div>
<div class="pl" style="top:658px">0.6000</div>
<div class="pl" style="top:705px">0.4000</div>
<div class="pl" style="top:751px">0.2000</div>
<div class="pl" style="top:797px">−0.0000</div>
<div class="tl" style="left:78.5px">15</div>
<div class="tl" style="left:162.5px">Dec</div>
<div class="tl" style="left:246.5px">16</div>
<div class="tl" style="left:339.5px">2020</div>
<div class="tl" style="left:423.5px">16</div>
<div class="tl" style="left:516.5px">Feb</div>
<div class="tl" style="left:676.5px">Mar</div>
<div class="tl" style="left:760.5px">16</div>
<div class="tl" style="left:861.5px">Apr</div>
<div class="tl" style="left:945.5px">16</div>
<div class="tl" style="left:1037.5px">May</div>
<div class="tl" style="left:1122.5px">15</div>
<div class="tl" style="left:1206.5px">Jun</div>
<div class="tl" style="left:1290.5px">15</div>
<div class="tl" style="left:1391.5px">Jul</div>
<div class="tl" style="left:1492.5px">20</div>
<div class="tl" style="left:1576.5px">Aug</div>
<div class="tl" style="left:1660.5px">17</div>
<div class="tl" style="left:1744.5px;transform:none;width:12px;overflow:hidden"><span style="display:inline-block;transform:scaleX(0.9);transform-origin:0 50%">Sep</span></div>
<div style="position:absolute;left:1773px;top:7px;width:28px;height:18px;border:1px solid #363a45;border-radius:4px;background:#131722;"></div>
<div class="t" style="left:1778px;top:11px;font-size:12px;color:#c9ccd3;transform:scaleX(0.82)">USD</div>
<div style="position:absolute;left:1758px;top:227px;width:53px;height:19px;background:#fff;"></div>
<div style="position:absolute;left:1758px;top:236px;width:4px;height:1px;background:#131722;"></div>
<div class="pl" style="top:230px;color:#131722">2.4600</div>
<div style="position:absolute;left:1769px;top:247px;width:42px;height:19px;background:#fff;"></div>
<div class="pl" style="left:1773px;top:250px;color:#131722;transform:scaleX(1.0)">48:59</div>
<div class="t" style="left:13px;top:11px;font-size:16px;;transform:scaleX(0.8511)">GREENPRO CAP CORP</div>
<div class="t" style="left:178.7px;top:11px;font-size:16px;;transform:scaleX(0.8312)">1D</div>
<div class="t" style="left:207.7px;top:11px;font-size:16px;;transform:scaleX(0.9145)">Cboe BZX</div>
<div class="t" style="left:169.5px;top:11px;font-size:16px;color:#787b86">·</div>
<div class="t" style="left:199px;top:11px;font-size:16px;color:#787b86">·</div>
<svg style="left:0;top:0" width="340" height="32" viewBox="0 0 340 32" shape-rendering="auto"><path d="M299 8h11v18h-11a9 9 0 0 1 0-18z" fill="#1a2833"/><path d="M310 8h11a9 9 0 0 1 0 18h-11z" fill="#65223a"/><circle cx="307.38" cy="18.70" r="0.45" fill="#15589c"/><circle cx="305.68" cy="21.66" r="0.45" fill="#15589c"/><circle cx="302.72" cy="23.37" r="0.45" fill="#15589c"/><circle cx="299.30" cy="23.38" r="0.45" fill="#15589c"/><circle cx="296.34" cy="21.68" r="0.45" fill="#15589c"/><circle cx="294.63" cy="18.72" r="0.45" fill="#15589c"/><circle cx="294.62" cy="15.30" r="0.45" fill="#15589c"/><circle cx="296.32" cy="12.34" r="0.45" fill="#15589c"/><circle cx="299.28" cy="10.63" r="0.45" fill="#15589c"/><circle cx="302.70" cy="10.62" r="0.45" fill="#15589c"/><circle cx="305.66" cy="12.32" r="0.45" fill="#15589c"/><circle cx="307.37" cy="15.28" r="0.45" fill="#15589c"/><circle cx="301" cy="17" r="4.1" fill="#1878d8"/><circle cx="300.5" cy="15.6" r="0.5" fill="#14487c"/><circle cx="302.4" cy="15.6" r="0.5" fill="#14487c"/><circle cx="299.6" cy="17.5" r="0.5" fill="#14487c"/><circle cx="302.6" cy="17.5" r="0.5" fill="#14487c"/><circle cx="301.5" cy="19.2" r="0.5" fill="#14487c"/><path d="M315 15.4h1.6v-1h2.2v1h2.6v-1.2" stroke="#cc3348" stroke-width="1" fill="none"/><path d="M315 19h8" stroke="#cc3348" stroke-width="1.9" fill="none"/><path d="M316.6 18h1.2M320 18h1.2" stroke="#65223a" stroke-width="0.9" fill="none"/></svg>
<div class="t" style="left:346.5px;top:12px;font-size:13px;;transform:scaleX(0.9584)">O0.9550</div>
<div class="t" style="left:401.7px;top:12px;font-size:13px;;transform:scaleX(0.9643)">H3.1200</div>
<div class="t" style="left:455.6px;top:12px;font-size:13px;;transform:scaleX(0.9723)">L0.9500</div>
<div class="t" style="left:507.5px;top:12px;font-size:13px;;transform:scaleX(0.9643)">C2.4600</div>
<div class="t" style="left:562.3px;top:12px;font-size:13px;;transform:scaleX(0.9270)">+1.6999</div>
<div class="t" style="left:612px;top:12px;font-size:13px;;transform:scaleX(0.9086)">(+223.64%)</div>
<div class="t" style="left:13px;top:35px;font-size:13px;;transform:scaleX(0.9617)">VPVR Number Of Rows 100 Up/Down 70</div>
<div class="t" style="left:251.8px;top:35px;font-size:13px;color:#2196f3;transform:scaleX(0.9435)">29.292K</div>
<div class="t" style="left:304px;top:35px;font-size:13px;color:#e8a21c;transform:scaleX(0.8570)">0</div>
<div class="t" style="left:317px;top:35px;font-size:13px;color:#34373f;transform:scaleX(0.9435)">29.292K</div>
<div class="t" style="left:13px;top:59px;font-size:13px;;transform:scaleX(0.9423)">VPSV HD Up/Down 70</div>
<div class="t" style="left:146.7px;top:59px;font-size:13px;color:#2196f3;transform:scaleX(0.9247)">5.378K</div>
<div class="t" style="left:191.6px;top:59px;font-size:13px;color:#e8a21c;transform:scaleX(0.8570)">0</div>
<div class="t" style="left:204.7px;top:59px;font-size:13px;color:#34373f;transform:scaleX(0.9417)">5.378K</div>
<div style="position:absolute;left:13px;top:79px;width:27px;height:19px;border:1px solid #2e323d;border-radius:4px;background:#131722;"></div>
<svg style="left:22px;top:85px" width="11" height="8" viewBox="0 0 11 8" shape-rendering="auto"><path d="M1.5 6L5.5 2L9.5 6" stroke="#d1d4dc" stroke-width="1.4" fill="none"/></svg>
<svg style="left:1780.5px;top:828.5px" width="16" height="16" viewBox="0 0 16 16" shape-rendering="auto"><circle cx="8" cy="8" r="4.7" fill="none" stroke="#82848c" stroke-width="1"/><path d="M8 .5v2.7M8 12.8v2.7M.5 8h2.7M12.8 8h2.7M3 3l1.3 1.3M11.7 11.7l1.3 1.3M13 3l-1.3 1.3M4.3 11.7l-1.3 1.3" stroke="#82848c" stroke-width="1"/></svg>
</body></html>
